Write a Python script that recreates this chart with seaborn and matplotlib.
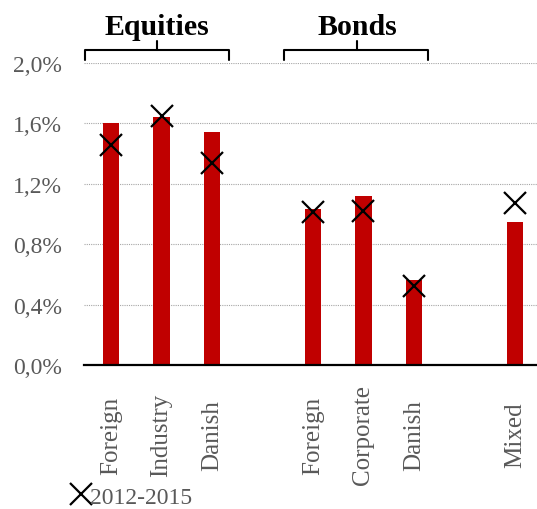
import matplotlib
matplotlib.use("Agg")
import matplotlib.pyplot as plt
import seaborn as sns
import pandas as pd
from matplotlib.lines import Line2D
from matplotlib.ticker import FuncFormatter

# category slots (two empty slots separate the groups)
slots = ["eq_foreign", "eq_industry", "eq_danish", "gap1",
         "bd_foreign", "bd_corporate", "bd_danish", "gap2", "mixed"]
slot_labels = ["Foreign", "Industry", "Danish", "",
               "Foreign", "Corporate", "Danish", "", "Mixed"]

# data (in %)
keys = ["eq_foreign", "eq_industry", "eq_danish",
        "bd_foreign", "bd_corporate", "bd_danish", "mixed"]
bar_values = [1.60, 1.64, 1.54, 1.03, 1.12, 0.56, 0.95]
period_values = [1.46, 1.65, 1.34, 1.01, 1.02, 0.52, 1.07]
period_label = "2012-2015"
y_ticks = [0.0, 0.4, 0.8, 1.2, 1.6, 2.0]

groups = ["Equities", "Bonds"]

df = pd.DataFrame({"key": keys, "avg": bar_values, "period": period_values})

sns.set_style("white")
plt.rcParams["font.family"] = ["Liberation Serif", "DejaVu Serif"]

RED = "#C00000"
GREY = "#595959"

fig = plt.figure(figsize=(5.37, 5.1), dpi=100)
ax = fig.add_axes([84 / 537, 144 / 510, 453 / 537, 302 / 510])

sns.barplot(data=df, x="key", y="avg", order=slots, color=RED, saturation=1,
            width=0.32, edgecolor="none", ax=ax)
sns.pointplot(data=df, x="key", y="period", order=slots, color="black",
              markers="x", linestyles="none", errorbar=None,
              markersize=16, markeredgewidth=1.6, ax=ax)

ax.set_xlim(-0.535, 8.436)
ax.set_ylim(0, 2.0)
ax.set_xlabel("")
ax.set_ylabel("")

ax.set_xticks(range(len(slots)))
ax.set_xticklabels(slot_labels, rotation=90, fontsize=18, color=GREY)
for lab in ax.get_xticklabels():
    lab.set_va("center")
ax.tick_params(axis="x", length=0, pad=50)

ax.set_yticks(y_ticks)
ax.yaxis.set_major_formatter(FuncFormatter(lambda v, p: f"{v:.1f}%".replace(".", ",")))
ax.tick_params(axis="y", length=0, pad=16, labelsize=17, labelcolor=GREY)

ax.yaxis.grid(True, linestyle=(0, (1, 1)), color="#a6a6a6", linewidth=0.8)
ax.set_axisbelow(True)

for s in ["top", "right", "left"]:
    ax.spines[s].set_visible(False)
ax.spines["bottom"].set_color("black")
ax.spines["bottom"].set_linewidth(1.6)
ax.spines["bottom"].set_zorder(5)


# group brackets above the plot
def bracket(x0, x1, xc, label):
    y_end, y_line, y_peak = 2.017, 2.084, 2.143
    ax.plot([x0, x0, x1, x1], [y_end, y_line, y_line, y_end],
            color="black", lw=1.5, clip_on=False, solid_joinstyle="round")
    ax.plot([xc, xc], [y_line, y_peak], color="black", lw=1.5, clip_on=False)
    ax.text(xc, 2.24, label, ha="center", va="center", fontsize=21.5,
            fontweight="bold", color="black")


bracket(-0.515, 2.337, 0.911, groups[0])
bracket(3.426, 6.277, 4.871, groups[1])

handle = Line2D([], [], color="black", marker="x", linestyle="none",
                markersize=16, markeredgewidth=1.6)
fig.legend(handles=[handle], labels=[period_label], loc="center left",
           bbox_to_anchor=(72 / 537, 1 - 498 / 510), frameon=False,
           borderpad=0, borderaxespad=0, handlelength=0.75,
           handletextpad=0.02, labelcolor=GREY, fontsize=17)

fig.savefig("out.png", dpi=100)
